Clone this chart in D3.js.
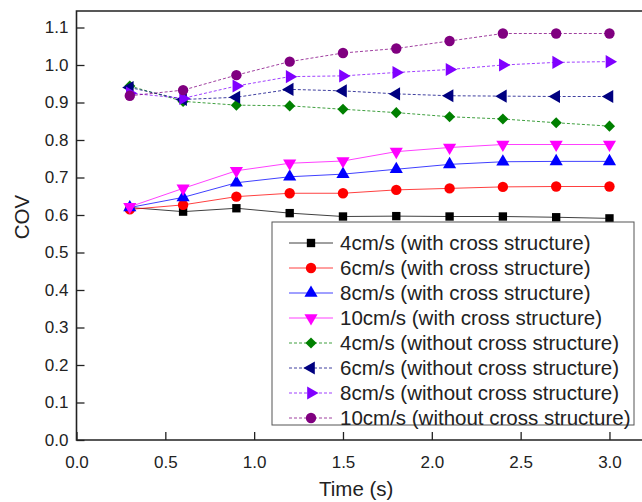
<!DOCTYPE html>
<html>
<head>
<meta charset="utf-8">
<script src="https://cdn.jsdelivr.net/npm/d3@7"></script>
<style>
body { margin: 0; background: #fff; }
text { font-family: "Liberation Sans", Arial, sans-serif; fill: #222; }
</style>
</head>
<body>
<div id="chart"></div>
<script>
// data
var times = [0.3, 0.6, 0.9, 1.2, 1.5, 1.8, 2.1, 2.4, 2.7, 3.0]
var xTicks = [0.0, 0.5, 1.0, 1.5, 2.0, 2.5, 3.0]
var yTicks = [0.0, 0.1, 0.2, 0.3, 0.4, 0.5, 0.6, 0.7, 0.8, 0.9, 1.0, 1.1]

var with4 = [0.62, 0.609, 0.618, 0.605, 0.596, 0.597, 0.596, 0.596, 0.594, 0.591]
var with6 = [0.615, 0.627, 0.649, 0.658, 0.658, 0.667, 0.671, 0.675, 0.676, 0.676]
var with8 = [0.62, 0.647, 0.686, 0.702, 0.709, 0.722, 0.735, 0.742, 0.743, 0.743]
var with10 = [0.622, 0.671, 0.718, 0.738, 0.744, 0.769, 0.78, 0.788, 0.788, 0.788]
var without4 = [0.944, 0.903, 0.893, 0.891, 0.882, 0.873, 0.862, 0.856, 0.846, 0.837]
var without6 = [0.94, 0.908, 0.914, 0.935, 0.931, 0.923, 0.918, 0.917, 0.916, 0.916]
var without8 = [0.925, 0.911, 0.944, 0.969, 0.971, 0.98, 0.988, 1.0, 1.007, 1.009]
var without10 = [0.918, 0.933, 0.973, 1.009, 1.032, 1.044, 1.064, 1.084, 1.084, 1.084]

var seriesNames = ["4cm/s (with cross structure)", "6cm/s (with cross structure)",
    "8cm/s (with cross structure)", "10cm/s (with cross structure)",
    "4cm/s (without cross structure)", "6cm/s (without cross structure)",
    "8cm/s (without cross structure)", "10cm/s (without cross structure)"]
var seriesValues = [with4, with6, with8, with10, without4, without6, without8, without10]

// styling per series (same order as above)
var colors = ["#000000", "#ff0000", "#0000ff", "#ff00ff", "#008000", "#000080", "#8000ff", "#800080"]
var shapes = ["square", "circle", "up", "down", "diamond", "left", "right", "circle"]
var dashed = [false, false, false, false, true, true, true, true]

var width = 642
var height = 502

var svg = d3.select("#chart")
    .append("svg")
    .attr("width", width)
    .attr("height", height)

var x = d3.scaleLinear()
    .domain([0, 3.2])
    .range([76.5, 645])

var y = d3.scaleLinear()
    .domain([0, 1.144])
    .range([440, 11])

// data lines
var line = d3.line()
    .x(function(d, i) { return x(times[i]) })
    .y(function(d) { return y(d) })

var symbolFor = function(shape)
{
    if (shape == "square") return d3.symbol().type(d3.symbolSquare).size(70)
    if (shape == "circle") return d3.symbol().type(d3.symbolCircle).size(85)
    if (shape == "diamond") return d3.symbol().type(d3.symbolSquare).size(62)
    return d3.symbol().type(d3.symbolTriangle).size(75)
}
var rotationFor = function(shape)
{
    if (shape == "down") return 180
    if (shape == "left") return -90
    if (shape == "right") return 90
    if (shape == "diamond") return 45
    return 0
}

var drawMarker = function(g, k, cx, cy)
{
    g.append("path")
        .attr("d", symbolFor(shapes[k])())
        .attr("transform", "translate(" + cx + "," + cy + ") rotate(" + rotationFor(shapes[k]) + ")")
        .attr("fill", colors[k])
}

var order = [4, 5, 6, 7, 0, 1, 2, 3]
order.forEach(function(k)
{
    var g = svg.append("g")
    g.append("path")
        .attr("d", line(seriesValues[k]))
        .attr("fill", "none")
        .attr("stroke", colors[k])
        .attr("stroke-width", 1)
        .attr("stroke-opacity", 0.75)
        .attr("stroke-dasharray", dashed[k] ? "3,2" : null)
    seriesValues[k].forEach(function(v, i)
    {
        drawMarker(g, k, x(times[i]), y(v))
    })
})

// axes (ticks pointing inward)
svg.append("g")
    .attr("transform", "translate(0,440)")
    .call(d3.axisBottom(x).tickValues(xTicks).tickSizeInner(-8).tickSizeOuter(0).tickPadding(16)
        .tickFormat(d3.format(".1f")))
    .call(function(g) { g.select(".domain").remove() })
    .call(function(g) { g.selectAll("text").attr("font-size", 17).attr("fill", "#222") })
    .call(function(g) { g.selectAll("line").attr("stroke", "#222").attr("stroke-width", 1.3) })

svg.append("g")
    .attr("transform", "translate(76.5,0)")
    .call(d3.axisLeft(y).tickValues(yTicks).tickSizeInner(-8).tickSizeOuter(0).tickPadding(8)
        .tickFormat(d3.format(".1f")))
    .call(function(g) { g.select(".domain").remove() })
    .call(function(g) { g.selectAll("text").attr("font-size", 17).attr("fill", "#222") })
    .call(function(g) { g.selectAll("line").attr("stroke", "#222").attr("stroke-width", 1.3) })

// frame
svg.append("path")
    .attr("d", "M642,11H76.5V440H642")
    .attr("fill", "none")
    .attr("stroke", "#222")
    .attr("stroke-width", 1.6)

// axis titles
svg.append("text")
    .attr("x", (76.5 + 642) / 2 - 3)
    .attr("y", 496)
    .attr("text-anchor", "middle")
    .attr("font-size", 20.5)
    .text("Time (s)")

svg.append("text")
    .attr("transform", "translate(29,217) rotate(-90)")
    .attr("text-anchor", "middle")
    .attr("font-size", 20.5)
    .text("COV")

// legend
var legend = svg.append("g")
legend.append("rect")
    .attr("x", 272)
    .attr("y", 222)
    .attr("width", 362)
    .attr("height", 203)
    .attr("fill", "#fff")
    .attr("stroke", "#555")
    .attr("stroke-width", 1)

seriesNames.forEach(function(name, k)
{
    var ly = 243 + k * 25
    legend.append("line")
        .attr("x1", 289).attr("x2", 333)
        .attr("y1", ly).attr("y2", ly)
        .attr("stroke", colors[k])
        .attr("stroke-width", 1)
        .attr("stroke-opacity", 0.75)
        .attr("stroke-dasharray", dashed[k] ? "3,2" : null)
    drawMarker(legend, k, 311, ly)
    legend.append("text")
        .attr("x", 340)
        .attr("y", ly + 7)
        .attr("font-size", 20.5)
        .text(name)
})
</script>
</body>
</html>
